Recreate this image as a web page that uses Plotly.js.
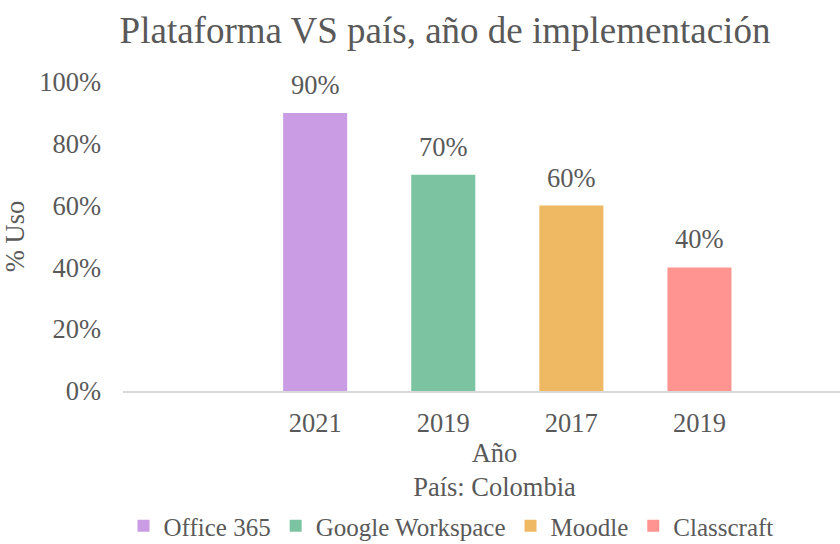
<!DOCTYPE html>
<html>
<head>
<meta charset="utf-8">
<script src="https://cdn.plot.ly/plotly-3.0.1.min.js"></script>
<style>
html, body { margin: 0; padding: 0; overflow: hidden; background: #ffffff; }
#chart { width: 870px; height: 544px; }
</style>
</head>
<body>
<div id="chart"></div>
<script>
// ---- data ----
const platforms = ['Office 365', 'Google Workspace', 'Moodle', 'Classcraft'];
const years = ['2021', '2019', '2017', '2019'];
const usage = [0.90, 0.70, 0.60, 0.40];
const colors = ['#C99CE3', '#7CC3A1', '#EFB862', '#FF9491'];
const yTicks = [0, 0.2, 0.4, 0.6, 0.8, 1.0];
const chartTitle = 'Plataforma VS país, año de implementación';
const xTitle = 'Año<br>País: Colombia';
const yTitle = '% Uso';

const FONT = '"Liberation Serif", "Times New Roman", serif';
const TXT = '#595959';
const FS = 26.5;
const W = 870;

const slots = platforms.map((p, i) => i + 1);

const traces = platforms.map((p, i) => ({
  type: 'bar',
  name: p,
  x: [slots[i]],
  y: [usage[i]],
  width: 0.5,
  marker: { color: colors[i] },
  hovertemplate: years[i] + ': %{y:.0%}<extra>' + p + '</extra>'
}));

const labels = platforms.map((p, i) => ({
  x: slots[i],
  y: usage[i],
  xref: 'x',
  yref: 'y',
  text: Math.round(usage[i] * 100) + '%',
  showarrow: false,
  yanchor: 'bottom',
  yshift: 11,
  font: { family: FONT, size: FS, color: TXT }
}));

const layout = {
  width: W,
  height: 544,
  paper_bgcolor: '#ffffff',
  plot_bgcolor: '#ffffff',
  margin: { l: 123, r: 4, t: 82, b: 153 },
  font: { family: FONT, color: TXT, size: FS },
  barmode: 'overlay',
  showlegend: true,
  title: {
    text: chartTitle,
    font: { family: FONT, size: 37, color: TXT },
    xref: 'container',
    x: 445 / W,
    xanchor: 'center',
    yref: 'container',
    y: 1 - 30 / 544,
    yanchor: 'middle'
  },
  xaxis: {
    range: [-0.5, 5.3],
    tickmode: 'array',
    tickvals: slots,
    ticktext: years,
    showline: true,
    linecolor: '#d9d9d9',
    linewidth: 1.5,
    showgrid: false,
    zeroline: false,
    ticks: '',
    ticklabelstandoff: 7,
    tickfont: { family: FONT, size: FS, color: TXT },
    title: { text: xTitle, font: { family: FONT, size: FS, color: TXT }, standoff: 6 },
    automargin: false,
    fixedrange: true
  },
  yaxis: {
    range: [0, 1],
    tickmode: 'array',
    tickvals: yTicks,
    tickformat: '.0%',
    showgrid: false,
    zeroline: false,
    showline: false,
    ticks: '',
    ticklabelstandoff: 21,
    tickfont: { family: FONT, size: FS, color: TXT },
    title: { text: yTitle, font: { family: FONT, size: FS, color: TXT }, standoff: 6 },
    automargin: false,
    fixedrange: true
  },
  legend: {
    orientation: 'h',
    xref: 'container',
    x: 451 / W,
    xanchor: 'center',
    yref: 'container',
    y: 18 / 544,
    yanchor: 'middle',
    font: { family: FONT, size: 25, color: TXT },
    itemwidth: 30,
    tracegroupgap: 0,
    traceorder: 'normal'
  },
  annotations: labels
};

Plotly.newPlot('chart', traces, layout, { displayModeBar: false });
</script>
</body>
</html>
